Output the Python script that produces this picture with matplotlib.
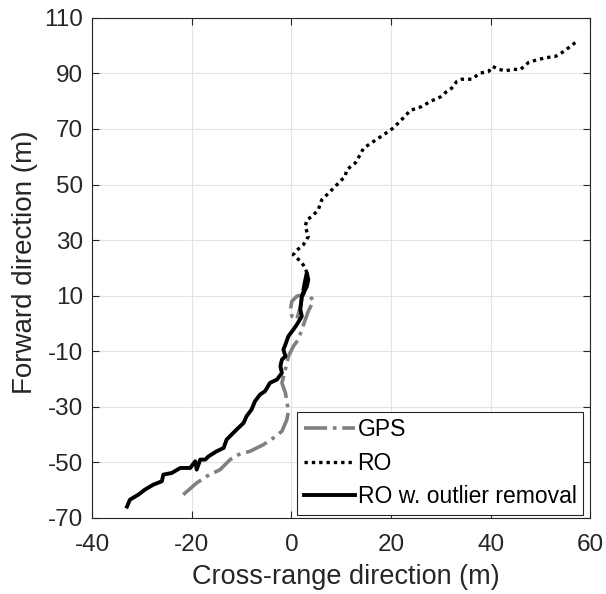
import matplotlib
matplotlib.use('Agg')
import matplotlib.pyplot as plt

plt.rcParams['font.family'] = ['Liberation Sans', 'DejaVu Sans']
plt.rcParams['xtick.direction'] = 'in'
plt.rcParams['ytick.direction'] = 'in'
plt.rcParams['axes.unicode_minus'] = False

# GPS trajectory (m)
gps_x = [-21.7, -19.0, -17.0, -14.3, -12.3, -10.6, -8.3, -5.6, -3.6, -1.9, -0.9, -0.6,
         -0.9, -1.2, -1.9, -1.2, -0.6, 0.4, 1.4, 2.1, 2.8, 3.4, 4.4, 3.8, 2.4, 1.1,
         0.1, -0.2, 0.1, 1.1, 1.8, 2.3, 2.6]
gps_y = [-61.6, -57.4, -55.0, -52.6, -49.0, -47.2, -46.0, -43.6, -41.2, -38.8, -34.6, -31.6,
         -28.0, -25.0, -21.4, -16.6, -11.8, -8.2, -5.8, -2.2, 1.4, 4.4, 8.0, 9.8, 10.4, 9.8,
         8.0, 5.0, 2.6, 1.4, 6.0, 11.0, 15.0]

# RO trajectory (m)
ro_x = [3.1, 2.8, 2.1, 1.1, 0.4, 0.8, 2.4, 3.4, 2.8, 3.1, 4.1, 5.4, 6.1, 7.8, 8.8, 10.1,
        10.8, 11.1, 12.8, 13.8, 14.5, 16.5, 18.5, 20.2, 21.8, 23.9, 26.2, 27.9, 29.9, 31.2,
        32.2, 33.2, 34.2, 36.2, 37.9, 39.6, 40.4, 41.6, 42.9, 44.6, 45.9, 47.6, 49.3, 51.3,
        53.0, 54.7, 56.0, 57.0]
ro_y = [18.2, 20.0, 21.8, 23.6, 24.7, 25.9, 28.3, 31.3, 34.9, 37.3, 38.5, 40.9, 44.5, 47.5,
        49.3, 51.7, 52.9, 55.3, 57.7, 60.7, 63.1, 65.5, 67.9, 70.0, 72.7, 76.7, 78.1, 79.9,
        81.5, 83.5, 84.7, 87.1, 87.9, 87.9, 90.1, 90.7, 92.5, 91.5, 90.9, 91.5, 91.3, 93.9,
        94.9, 95.7, 96.1, 97.9, 99.7, 101.1]

# RO with outlier removal (m)
rof_x = [-33.0, -32.4, -30.7, -29.4, -27.7, -26.0, -25.7, -24.0, -22.3, -20.3, -19.3, -19.0,
         -18.3, -17.3, -16.6, -15.0, -13.6, -13.0, -12.0, -11.0, -9.6, -9.0, -8.0, -7.3,
         -6.3, -5.3, -4.3, -2.9, -1.9, -2.2, -1.9, -1.2, -1.6, -1.2, -0.6, 0.4, 1.1, 2.1,
         1.8, 2.1, 3.1, 3.4, 3.1, 2.6, 2.4]
rof_y = [-65.9, -63.4, -61.6, -59.8, -58.0, -56.8, -54.4, -53.8, -52.0, -52.0, -49.6, -52.6,
         -49.0, -49.0, -47.8, -46.0, -44.8, -41.8, -40.0, -38.2, -35.8, -33.4, -31.0, -28.0,
         -25.6, -24.4, -21.4, -20.2, -17.8, -15.4, -13.0, -11.8, -9.4, -7.6, -4.6, -2.2,
         -0.4, 2.6, 5.0, 9.8, 13.3, 15.8, 18.2, 14.0, 11.0]

fig = plt.figure(figsize=(6.06, 5.94), dpi=100)
ax = fig.add_axes([0.152, 0.128, 0.822, 0.842])
ax.plot(gps_x, gps_y, color='#808080', ls='-.', lw=2.6, label='GPS')
ax.plot(ro_x, ro_y, color='k', ls=(0, (1, 1.2)), lw=2.4, label='RO')
ax.plot(rof_x, rof_y, color='k', ls='-', lw=2.8, label='RO w. outlier removal')
ax.set_xlim([-40, 60])
ax.set_ylim([-70, 110])
ax.set_xticks([-40, -20, 0, 20, 40, 60])
ax.set_yticks(list(range(-70, 111, 20)))
ax.grid(True, color='#e3e3e3', lw=0.8)
ax.set_axisbelow(True)
ax.tick_params(axis='both', labelsize=17.5, top=True, right=True, length=5, width=0.8,
               colors='#262626')
ax.tick_params(axis='y', pad=6.5)
ax.tick_params(axis='x', pad=11.5)
for s in ax.spines.values():
    s.set_linewidth(0.8)
    s.set_color('#262626')
ax.set_xlabel('Cross-range direction (m)', fontsize=19.5, color='#262626')
ax.set_ylabel('Forward direction (m)', fontsize=20, color='#262626')
ax.xaxis.set_label_coords(0.51, -0.092)
ax.yaxis.set_label_coords(-0.108, 0.511)
leg = ax.legend(loc='lower right', bbox_to_anchor=(0.986, 0.006), fontsize=16.5,
                fancybox=False, framealpha=1, edgecolor='#262626', handlelength=2.2,
                handletextpad=0.13, borderaxespad=0, labelspacing=0.45, borderpad=0.3)
leg.get_frame().set_linewidth(0.8)
fig.savefig('out.png', dpi=100)
